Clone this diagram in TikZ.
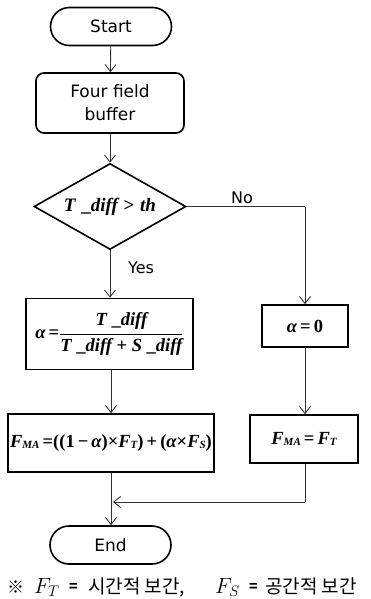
\RequirePackage{fix-cm}
\documentclass[tikz,border=0pt]{standalone}
\usepackage{fontspec}
\setsansfont{DejaVu Sans}
\newfontfamily\eqfont{Liberation Serif}
\newfontfamily\cjk{Noto Sans CJK KR}
\usetikzlibrary{shapes.geometric,arrows.meta}
\newcommand{\ebi}[1]{{\eqfont\bfseries\itshape #1}}
\newcommand{\ebs}[1]{\raisebox{-1.5pt}{\fontsize{11}{11}\selectfont\eqfont\bfseries\itshape #1}}
\newcommand{\ebu}[1]{{\eqfont\bfseries #1}}
\begin{document}
\begin{tikzpicture}[x=1pt,y=-1pt,
  conn/.style={draw=black!80,line width=0.9pt,-{Straight Barb[length=7pt,width=11pt,line width=0.9pt]}},
  plain/.style={draw=black!80,line width=0.9pt},
  term/.style={draw,line width=1.6pt,rounded corners=19pt,minimum width=121pt,minimum height=38pt,inner sep=0pt,font=\sffamily\fontsize{17}{23}\selectfont},
  proc/.style={draw,line width=1.6pt,inner sep=0pt,font=\eqfont\fontsize{18.5}{21}\selectfont},
  lbl/.style={font=\sffamily\fontsize{16}{19}\selectfont,inner sep=0pt},
  foot/.style={anchor=base west,inner sep=0pt}]
\useasboundingbox (0,0) rectangle (370,599);

\node[term] (start) at (111,26.5) {Start};
\node[term,rounded corners=8pt,minimum width=148pt,minimum height=60pt,align=center] (buf) at (110,103) {Four field\\buffer};
\node[diamond,draw,line width=1.6pt,minimum width=152pt,minimum height=86pt,inner sep=0pt,aspect=1.77] (dec) at (110,206.5)
  {\fontsize{19}{21}\selectfont\ebi{T} \ebu{\_}\ebi{diff} \ebu{>} \ebi{th}};
\node[proc,minimum width=167pt,minimum height=71pt] (alpha) at (109.5,334)
  {\ebi{α}\,\ebu{=}$\displaystyle\frac{\hbox{\ebi{T} \ebu{\_}\ebi{diff}}}{\hbox{\ebi{T} \ebu{\_}\ebi{diff} \ebu{+} \ebi{S} \ebu{\_}\ebi{diff}}}$};
\node[proc,minimum width=86pt,minimum height=42pt] (a0) at (305,326)
  {\ebi{α}\,\ebu{=}\,\ebu{0}};
\node[proc,minimum width=206pt,minimum height=58pt] (fma) at (111,443)
  {\ebi{F}\ebs{MA}\,\ebu{=}\ebu{((1}\,\ebu{−}\,\ebi{α}\ebu{)}\ebu{×}\ebi{F}\ebs{T}\ebu{)}\,\ebu{+}\,\ebu{(}\ebi{α}\ebu{×}\ebi{F}\ebs{S}\ebu{)}};
\node[proc,minimum width=108pt,minimum height=48pt] (fmt) at (304,439)
  {\ebi{F}\ebs{MA}\,\ebu{=}\,\ebi{F}\ebs{T}};
\node[term] (end) at (110.5,545) {End};

\coordinate (nc) at (305,206.5);
\coordinate (jr) at (305,502);
\coordinate (jl) at (113,502);

\draw[conn] (start) -- (buf);
\draw[conn] (buf) -- (dec);
\draw[conn] (dec.south) -- (dec.south |- alpha.north);
\draw[plain] (dec.east) -- (nc);
\draw[conn] (nc) -- (a0.north -| nc);
\draw[conn] (alpha.south -| fma.north) -- (fma.north);
\draw[conn] (a0.south -| nc) -- (fmt.north -| nc);
\draw[conn] (fma.south) -- (fma.south |- end.north);
\draw[plain] (fmt.south -| nc) -- (jr);
\draw[conn] (jr) -- (jl);

\node[lbl] (yes) at (141,268) {Yes};
\node[lbl] (no) at (242,198) {No};

\node[foot] (f1) at (7,593) {\cjk\fontsize{17}{19}\selectfont ※};
\node[foot] (f2) at (34,593) {\fontsize{22}{24}\selectfont $F_T$};
\node[foot] (f3) at (69,591) {\cjk\bfseries\fontsize{14}{16}\selectfont =};
\node[foot] (f4) at (88,593) {\cjk\fontsize{19}{21}\selectfont 시간적 보간,};
\node[foot] (f5) at (215,593) {\fontsize{22}{24}\selectfont $F_S$};
\node[foot] (f6) at (249,591) {\cjk\bfseries\fontsize{14}{16}\selectfont =};
\node[foot] (f7) at (265,593) {\cjk\fontsize{19}{21}\selectfont 공간적 보간};
\end{tikzpicture}
\end{document}
